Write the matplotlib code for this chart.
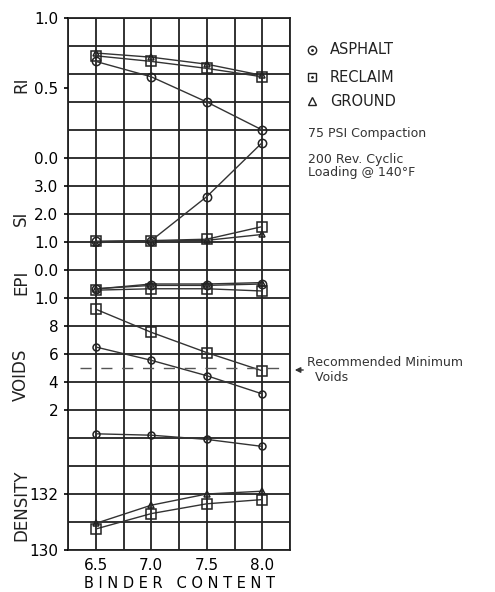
import numpy as np
import matplotlib.pyplot as plt

binder = [6.5, 7.0, 7.5, 8.0]

ri_asphalt = [0.69, 0.58, 0.40, 0.20]
ri_reclaim = [0.73, 0.69, 0.64, 0.58]
ri_ground = [0.75, 0.72, 0.67, 0.59]

si_asphalt = [1.02, 1.05, 2.62, 4.55]
si_reclaim = [1.02, 1.05, 1.10, 1.55]
si_ground = [0.98, 1.03, 1.06, 1.27]

epi_asphalt = [1.33, 1.45, 1.45, 1.50]
epi_reclaim = [1.28, 1.33, 1.33, 1.25]
epi_ground = [1.32, 1.50, 1.50, 1.55]

voids_asphalt = [6.5, 5.55, 4.45, 3.15]
voids_reclaim = [9.2, 7.55, 6.1, 4.8]
min_voids = 5.0

density_asphalt = [134.15, 134.1, 133.95, 133.7]
density_reclaim = [130.75, 131.3, 131.65, 131.8]
density_ground = [130.95, 131.6, 132.0, 132.1]

xtick_labels = ['6.5', '7.0', '7.5', '8.0']

W, H = 495, 592
fig = plt.figure(figsize=(W / 100, H / 100), dpi=100)
L, R, T, B = 68, 290, 18, 550
ax = fig.add_axes([L / W, 1 - B / H, (R - L) / W, (B - T) / H])

# base grid: 19 rows, x every 0.25
ax.set_xlim(6.25, 8.25)
ax.set_ylim(0, 19)
ax.set_yticks(np.arange(20))
ax.set_yticklabels([])
xt = np.arange(6.25, 8.26, 0.25)
ax.set_xticks(xt)
ax.set_xticklabels(['' if round(v, 2) not in binder else f'{v:.1f}' for v in xt])
ax.tick_params(length=0, labelsize=11, pad=6)
ax.grid(True, color='#222222', lw=1.3)
for s in ax.spines.values():
    s.set_color('#222222')
    s.set_linewidth(1.3)
ax.set_xlabel('B I N D E R   C O N T E N T', fontsize=10.5, labelpad=2)

line_kw = dict(color='#333333', lw=1.0, mfc='none', mec='#222222', mew=1.1)


def panel(lims, ticks, labels):
    a = ax.twinx()
    a.set_ylim(*lims)
    a.yaxis.tick_left()
    a.set_yticks(ticks)
    a.set_yticklabels(labels)
    a.tick_params(axis='y', length=3, width=1.2, labelsize=11, pad=4)
    for s in a.spines.values():
        s.set_visible(False)
    a.patch.set_visible(False)
    return a


# each scale lined up to the grid rows
ri = panel((-2.8, 1.0), [1.0, 0.5, 0.0], ['1.0', '0.5', '0.0'])
si = panel((-10, 9), [3, 2, 1, 0], ['3.0', '2.0', '1.0', '0.0'])
epi = panel((-8, 11), [1], ['1.0'])
vo = panel((-8, 30), [8, 6, 4, 2], ['8', '6', '4', '2'])
de = panel((130, 149), [132, 130], ['132', '130'])

for a, asp, rec, gr in [(ri, ri_asphalt, ri_reclaim, ri_ground),
                        (si, si_asphalt, si_reclaim, si_ground),
                        (epi, epi_asphalt, epi_reclaim, epi_ground)]:
    a.plot(binder, gr, marker='^', ms=5, **line_kw)
    a.plot(binder, rec, marker='s', ms=7, **line_kw)
    a.plot(binder, asp, marker='o', ms=6, **line_kw)

vo.plot(binder, voids_reclaim, marker='s', ms=7, **line_kw)
vo.plot(binder, voids_asphalt, marker='o', ms=5, **line_kw)
vo.axhline(min_voids, xmin=0.055, xmax=0.955, color='#555555', lw=1.0,
           dashes=(8, 7))

de.plot(binder, density_asphalt, marker='o', ms=5, **line_kw)
de.plot(binder, density_ground, marker='^', ms=5, **line_kw)
de.plot(binder, density_reclaim, marker='s', ms=7, **line_kw)

# panel names
for name, yc in [('RI', 85), ('SI', 218), ('EPI', 282), ('VOIDS', 375),
                 ('DENSITY', 505)]:
    fig.text(21 / W, 1 - yc / H, name, rotation=90, fontsize=12,
             ha='center', va='center', color='#222222')

# legend and notes
for mk, txt, yc, dot in [('o', 'ASPHALT', 50, True), ('s', 'RECLAIM', 77, True),
                         ('^', 'GROUND', 101, False)]:
    fig.lines.append(plt.Line2D([312 / W], [1 - yc / H], marker=mk, ms=6,
                                mfc='none', mec='#222222', mew=1.0,
                                transform=fig.transFigure))
    if dot:
        fig.lines.append(plt.Line2D([312 / W], [1 - yc / H], marker='.',
                                    ms=2, color='#222222',
                                    transform=fig.transFigure))
    fig.text(330 / W, 1 - yc / H, txt, fontsize=10.5, va='center',
             color='#222222', fontweight='medium')

fig.text(308 / W, 1 - 133 / H, '75 PSI Compaction', fontsize=9, va='center',
         color='#333333')
fig.text(308 / W, 1 - 166 / H, '200 Rev. Cyclic\nLoading @ 140°F',
         fontsize=9, va='center', color='#333333', linespacing=1.05)
fig.text(307 / W, 1 - 370 / H, 'Recommended Minimum\n  Voids', fontsize=9,
         va='center', color='#333333', linespacing=1.15)
fig.patches.append(plt.matplotlib.patches.FancyArrowPatch(
    (306 / W, 1 - 370 / H), (292 / W, 1 - 370 / H), transform=fig.transFigure,
    arrowstyle='-|>', mutation_scale=8, color='#333333', lw=1.0))

fig.savefig('out.png', dpi=100, facecolor='white')
